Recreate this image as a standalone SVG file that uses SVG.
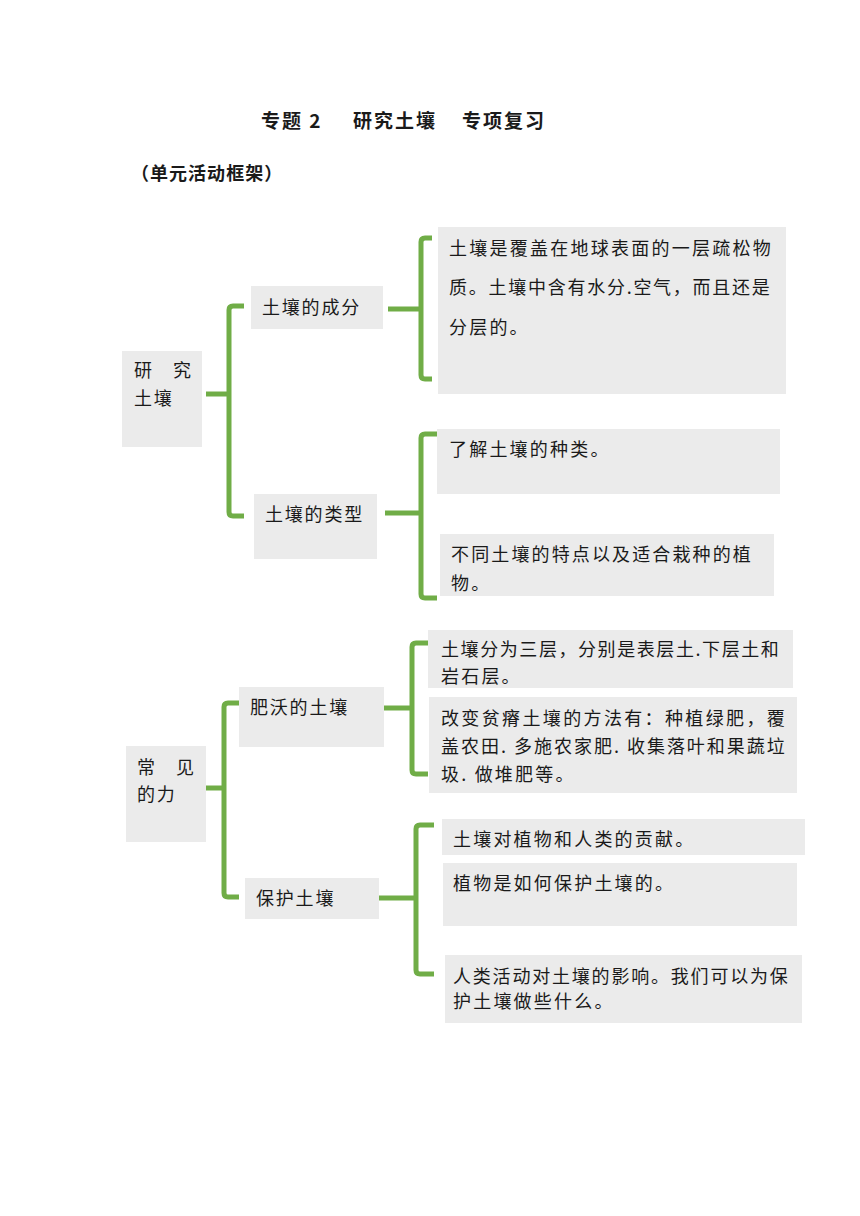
<svg xmlns="http://www.w3.org/2000/svg" width="860" height="1216" viewBox="0 0 860 1216">
<style>
text{font-family:"Noto Sans CJK SC","Liberation Sans",sans-serif;fill:#1a1a1a;dominant-baseline:central}
.box{fill:#EBEBEB}
.t{font-size:18px;letter-spacing:2.2px}
.lab{font-size:18px;letter-spacing:1.8px}
.ttl{font-size:19px;font-weight:bold;letter-spacing:2px}
.sub{font-size:18px;font-weight:bold;letter-spacing:0.8px}
.con{fill:none;stroke:#70AD47;stroke-width:5;stroke-linejoin:round}
</style>
<rect width="860" height="1216" fill="#fff"/>
<g id="title">
<text class="ttl" x="261" y="119">专题 2</text>
<text class="ttl" x="353" y="119">研究土壤</text>
<text class="ttl" x="462" y="119">专项复习</text>
</g>
<text class="sub" x="131" y="172" textLength="152" lengthAdjust="spacing">（单元活动框架）</text>
<g id="connectors">
<path class="con" d="M206 394H229"/>
<path class="con" d="M244 306H233Q229 306 229 310V512Q229 516 233 516H244"/>
<path class="con" d="M388 309H421"/>
<path class="con" d="M432 238H425Q421 238 421 242V375Q421 379 425 379H432"/>
<path class="con" d="M385 513H421"/>
<path class="con" d="M437 434H425Q421 434 421 438V594Q421 598 425 598H437"/>
<path class="con" d="M206 788H224"/>
<path class="con" d="M239 703H228Q224 703 224 707V893Q224 897 228 897H239"/>
<path class="con" d="M384 708H412"/>
<path class="con" d="M428 643H416Q412 643 412 647V770Q412 774 416 774H428"/>
<path class="con" d="M379 898H416"/>
<path class="con" d="M434 825H420Q416 825 416 829V970Q416 974 420 974H434"/>
</g>
<g id="n-yanjiu">
<rect class="box" x="122" y="351" width="80" height="96"/>
<text class="lab" x="134" y="369">研</text>
<text class="lab" x="173" y="369">究</text>
<text class="lab" x="134" y="397">土壤</text>
</g>
<g id="n-chengfen">
<rect class="box" x="251" y="286" width="132" height="43"/>
<text class="lab" x="262" y="306">土壤的成分</text>
</g>
<g id="n-chengfen-1">
<rect class="box" x="438" y="227" width="348" height="167"/>
<text class="t" x="449" y="247" textLength="324" lengthAdjust="spacing">土壤是覆盖在地球表面的一层疏松物</text>
<text class="t" x="449" y="286" textLength="323" lengthAdjust="spacing">质。土壤中含有水分.空气，而且还是</text>
<text class="t" x="449" y="326">分层的。</text>
</g>
<g id="n-leixing">
<rect class="box" x="254" y="494" width="123" height="65"/>
<text class="lab" x="265" y="513">土壤的类型</text>
</g>
<g id="n-leixing-1">
<rect class="box" x="437" y="429" width="343" height="65"/>
<text class="t" x="449" y="448">了解土壤的种类。</text>
</g>
<g id="n-leixing-2">
<rect class="box" x="440" y="534" width="334" height="62"/>
<text class="t" x="451" y="553" textLength="302" lengthAdjust="spacing">不同土壤的特点以及适合栽种的植</text>
<text class="t" x="451" y="582">物。</text>
</g>
<g id="n-changjian">
<rect class="box" x="126" y="746" width="80" height="96"/>
<text class="lab" x="137" y="766">常</text>
<text class="lab" x="176" y="766">见</text>
<text class="lab" x="137" y="793">的力</text>
</g>
<g id="n-feiwo">
<rect class="box" x="239" y="687" width="145" height="60"/>
<text class="lab" x="250" y="706">肥沃的土壤</text>
</g>
<g id="n-feiwo-1">
<rect class="box" x="428" y="630" width="365" height="58"/>
<text class="t" x="441" y="648" textLength="340" lengthAdjust="spacing">土壤分为三层，分别是表层土.下层土和</text>
<text class="t" x="441" y="675">岩石层。</text>
</g>
<g id="n-feiwo-2">
<rect class="box" x="429" y="697" width="368" height="96"/>
<text class="t" x="441" y="717" textLength="346" lengthAdjust="spacing">改变贫瘠土壤的方法有：种植绿肥，覆</text>
<text class="t" x="441" y="745" textLength="346" lengthAdjust="spacing">盖农田. 多施农家肥. 收集落叶和果蔬垃</text>
<text class="t" x="441" y="773">圾. 做堆肥等。</text>
</g>
<g id="n-baohu">
<rect class="box" x="245" y="878" width="134" height="41"/>
<text class="lab" x="256" y="897">保护土壤</text>
</g>
<g id="n-baohu-1">
<rect class="box" x="442" y="819" width="363" height="36"/>
<text class="t" x="453" y="838">土壤对植物和人类的贡献。</text>
</g>
<g id="n-baohu-2">
<rect class="box" x="443" y="863" width="354" height="63"/>
<text class="t" x="453" y="882">植物是如何保护土壤的。</text>
</g>
<g id="n-baohu-3">
<rect class="box" x="445" y="955" width="357" height="68"/>
<text class="t" x="453" y="975" textLength="337" lengthAdjust="spacing">人类活动对土壤的影响。我们可以为保</text>
<text class="t" x="453" y="1000">护土壤做些什么。</text>
</g>
</svg>
